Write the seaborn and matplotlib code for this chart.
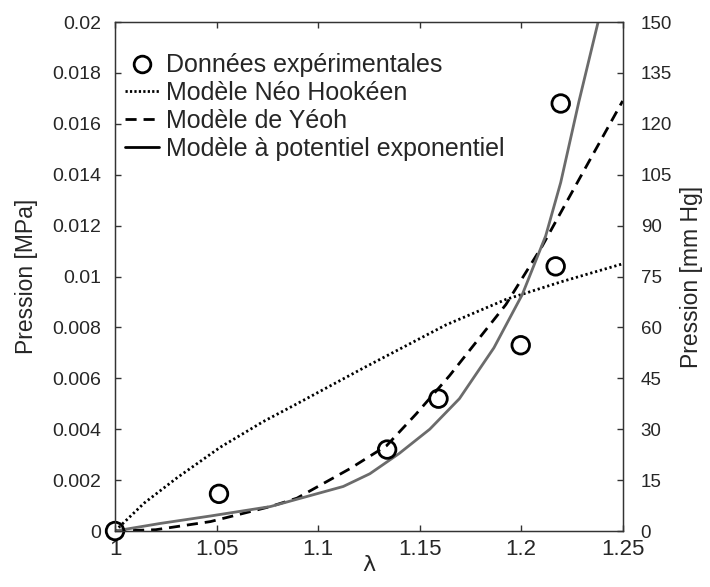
"""
Pression vs lambda: experimental points and three hyperelastic model fits,
with a secondary axis in mm Hg.
"""

import pandas as pd
import matplotlib
matplotlib.use("Agg")
import matplotlib.pyplot as plt
from matplotlib.lines import Line2D
import seaborn as sns

# ---------------------------------------------------------------------------
# Data
# ---------------------------------------------------------------------------

LAMBDA_EXP = [1.0, 1.0512, 1.134, 1.1593, 1.1998, 1.217, 1.2195]
P_EXP = [0.0, 0.00146, 0.0032, 0.0052, 0.0073, 0.0104, 0.0168]

LAMBDA_NH = [1.0, 1.0144, 1.0307, 1.052, 1.073, 1.0896, 1.1222, 1.163, 1.1925, 1.22, 1.25]
P_NH = [0.0, 0.0011, 0.0021, 0.0033, 0.0043, 0.0050, 0.0064, 0.0081, 0.0091, 0.0098, 0.0105]

LAMBDA_YEOH = [1.0, 1.02, 1.047, 1.0765, 1.0896, 1.1157, 1.1337, 1.1483, 1.1647,
               1.1925, 1.2104, 1.2284, 1.25]
P_YEOH = [0.0, 0.00005, 0.00037, 0.00096, 0.00129, 0.00245, 0.00335, 0.0046, 0.0061,
          0.0089, 0.0112, 0.0138, 0.0169]

LAMBDA_EXPO = [1.0, 1.0225, 1.047, 1.0765, 1.1124, 1.1255, 1.140, 1.1550, 1.1696, 1.1866,
               1.2006, 1.2121, 1.2195, 1.2284, 1.2379, 1.2405]
P_EXPO = [0.0, 0.0003, 0.00059, 0.00096, 0.00175, 0.00225, 0.00305, 0.0040, 0.0052, 0.0072,
          0.0093, 0.0116, 0.0137, 0.01686, 0.0200, 0.0210]

X_TICKS = [1, 1.05, 1.1, 1.15, 1.2, 1.25]
X_TICKLABELS = ["1", "1.05", "1.1", "1.15", "1.2", "1.25"]
Y_TICKS = [0, 0.002, 0.004, 0.006, 0.008, 0.01, 0.012, 0.014, 0.016, 0.018, 0.02]
Y_TICKLABELS = ["0", "0.002", "0.004", "0.006", "0.008", "0.01", "0.012", "0.014",
                "0.016", "0.018", "0.02"]
Y2_TICKS = [0, 15, 30, 45, 60, 75, 90, 105, 120, 135, 150]

LEGEND_LABELS = ["Données expérimentales", "Modèle Néo Hookéen",
                 "Modèle de Yéoh", "Modèle à potentiel exponentiel"]

# ---------------------------------------------------------------------------
# Plot
# ---------------------------------------------------------------------------

sns.set_style("ticks")
plt.rcParams["font.family"] = ["Liberation Sans", "DejaVu Sans"]
plt.rcParams["xtick.direction"] = "in"
plt.rcParams["ytick.direction"] = "in"

fig = plt.figure(figsize=(7.1, 5.87), dpi=100)
ax = fig.add_axes([0.162, 0.0954, 0.715, 0.867])

nh = pd.DataFrame({"lam": LAMBDA_NH, "p": P_NH})
yeoh = pd.DataFrame({"lam": LAMBDA_YEOH, "p": P_YEOH})
expo = pd.DataFrame({"lam": LAMBDA_EXPO, "p": P_EXPO})
exp_pts = pd.DataFrame({"lam": LAMBDA_EXP, "p": P_EXP})

sns.lineplot(data=nh, x="lam", y="p", ax=ax, color="black", lw=2.0,
             linestyle=(0, (0.8, 1.0)), sort=False)
sns.lineplot(data=yeoh, x="lam", y="p", ax=ax, color="black", lw=2.0,
             linestyle=(0, (4, 2.5)), sort=False)
sns.lineplot(data=expo, x="lam", y="p", ax=ax, color="#6b6b6b", lw=2.0, sort=False)
sns.scatterplot(data=exp_pts, x="lam", y="p", ax=ax, marker="o", s=160,
                facecolor="none", edgecolor="black", linewidth=2.0,
                clip_on=False, zorder=5)

ax.set_xlim(1, 1.25)
ax.set_ylim(0, 0.02)
ax.set_xticks(X_TICKS)
ax.set_xticklabels(X_TICKLABELS)
ax.set_yticks(Y_TICKS)
ax.set_yticklabels(Y_TICKLABELS)
ax.tick_params(axis="both", length=4, width=1, top=True, color="#333333")
ax.tick_params(axis="x", labelsize=16, pad=6)
ax.tick_params(axis="y", labelsize=14, pad=10)
ax.set_xlabel("λ", fontsize=16, family=["DejaVu Sans"], labelpad=-4)
ax.set_ylabel("Pression [MPa]", fontsize=16.5, labelpad=10)
for sp in ax.spines.values():
    sp.set_color("#333333")
    sp.set_linewidth(1.0)

ax2 = ax.twinx()
ax2.set_ylim(0, 150)
ax2.set_yticks(Y2_TICKS)
ax2.tick_params(axis="y", labelsize=13.5, length=4, width=1, direction="in",
                color="#333333", pad=13)
ax2.set_ylabel("Pression [mm Hg]", fontsize=16.5, labelpad=6)
for sp in ax2.spines.values():
    sp.set_color("#333333")

handles = [
    Line2D([], [], marker="o", ls="none", mfc="none", mec="black", ms=12, mew=2),
    Line2D([], [], color="black", lw=2, ls=(0, (0.8, 0.8))),
    Line2D([], [], color="black", lw=2, ls=(0, (4, 2.5))),
    Line2D([], [], color="black", lw=2),
]
ax.legend(handles, LEGEND_LABELS, loc="upper left", frameon=False, fontsize=18,
          handlelength=1.35, handletextpad=0.3, labelspacing=0.15,
          borderaxespad=0.2, bbox_to_anchor=(-0.01, 0.968))

fig.savefig("out.png", dpi=100)
